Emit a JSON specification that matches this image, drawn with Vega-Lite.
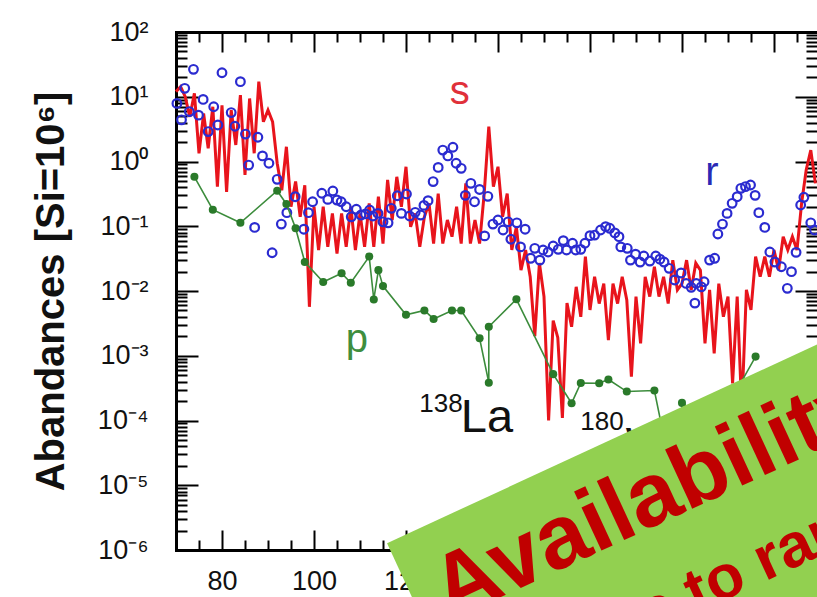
{
  "$schema": "https://vega.github.io/schema/vega-lite/v6.json",
  "width": 641,
  "height": 518,
  "autosize": {"type": "none"},
  "padding": {"left": 176, "top": 32, "right": 0, "bottom": 47},
  "background": "white",
  "config": {
    "view": {"stroke": null},
    "font": "Liberation Sans",
    "axis": {"grid": false, "tickColor": "#000", "tickWidth": 2, "domainColor": "#000", "domainWidth": 3, "domainCap": "square"}
  },
  "datasets": {
    "s": [
      {"A":70,"Y":12},{"A":71,"Y":14.3},{"A":72,"Y":10},{"A":73,"Y":4.9},{"A":74,"Y":11.3},{"A":75,"Y":1.34},{"A":76,"Y":5.5},{"A":77,"Y":1.6},{"A":78,"Y":7.0},{"A":79,"Y":0.41},
      {"A":80,"Y":7.4},{"A":81,"Y":0.34},{"A":82,"Y":6.2},{"A":83,"Y":1.8},{"A":84,"Y":10.6},{"A":85,"Y":0.62},{"A":86,"Y":9.4},{"A":87,"Y":1.34},{"A":88,"Y":17.1},{"A":89,"Y":4.1},
      {"A":90,"Y":6.2},{"A":91,"Y":4.1},{"A":92,"Y":0.94},{"A":93,"Y":0.36},{"A":94,"Y":1.69},{"A":95,"Y":0.2},{"A":96,"Y":0.49},{"A":97,"Y":0.14},{"A":98,"Y":0.43},{"A":99,"Y":0.0057},
      {"A":100,"Y":0.2},{"A":101,"Y":0.043},{"A":102,"Y":0.2},{"A":103,"Y":0.048},{"A":104,"Y":0.158},{"A":105,"Y":0.038},{"A":106,"Y":0.158},{"A":107,"Y":0.048},{"A":108,"Y":0.2},{"A":109,"Y":0.043},
      {"A":110,"Y":0.158},{"A":111,"Y":0.048},{"A":112,"Y":0.225},{"A":113,"Y":0.048},{"A":114,"Y":0.286},{"A":115,"Y":0.054},{"A":116,"Y":0.52},{"A":117,"Y":0.125},{"A":118,"Y":0.58},{"A":119,"Y":0.2},
      {"A":120,"Y":0.83},{"A":121,"Y":0.098},{"A":122,"Y":0.158},{"A":123,"Y":0.048},{"A":124,"Y":0.14},{"A":125,"Y":0.226},{"A":126,"Y":0.054},{"A":127,"Y":0.32},{"A":128,"Y":0.054},{"A":129,"Y":0.125},
      {"A":130,"Y":0.069},{"A":131,"Y":0.2},{"A":132,"Y":0.054},{"A":133,"Y":0.46},{"A":134,"Y":0.054},{"A":135,"Y":0.125},{"A":136,"Y":0.054},{"A":137,"Y":0.32},{"A":138,"Y":3.45},{"A":139,"Y":0.41},
      {"A":140,"Y":0.83},{"A":141,"Y":0.14},{"A":142,"Y":0.32},{"A":143,"Y":0.043},{"A":144,"Y":0.098},{"A":145,"Y":0.021},{"A":146,"Y":0.043},{"A":147,"Y":0.0166},{"A":148,"Y":0.002},{"A":149,"Y":0.027},
      {"A":150,"Y":0.0082},{"A":151,"Y":0.0001},{"A":152,"Y":0.0035},{"A":153,"Y":0.0019},{"A":154,"Y":0.00011},{"A":155,"Y":0.0065},{"A":156,"Y":0.0028},{"A":157,"Y":0.0116},{"A":158,"Y":0.004},{"A":159,"Y":0.034},
      {"A":160,"Y":0.0051},{"A":161,"Y":0.0166},{"A":162,"Y":0.0064},{"A":163,"Y":0.013},{"A":164,"Y":0.00175},{"A":165,"Y":0.013},{"A":166,"Y":0.0064},{"A":167,"Y":0.0166},{"A":168,"Y":0.0073},{"A":169,"Y":0.000475},
      {"A":170,"Y":0.0082},{"A":171,"Y":0.00155},{"A":172,"Y":0.0166},{"A":173,"Y":0.0082},{"A":174,"Y":0.0237},{"A":175,"Y":0.0082},{"A":176,"Y":0.0166},{"A":177,"Y":0.0064},{"A":178,"Y":0.03},{"A":179,"Y":0.0104},
      {"A":180,"Y":0.013},{"A":181,"Y":0.03},{"A":182,"Y":0.0104},{"A":183,"Y":0.027},{"A":184,"Y":0.021},{"A":185,"Y":0.00155},{"A":186,"Y":0.0104},{"A":187,"Y":0.00109},{"A":188,"Y":0.013},{"A":189,"Y":0.004},
      {"A":190,"Y":0.0082},{"A":191,"Y":0.000375},{"A":192,"Y":0.0082},{"A":193,"Y":0.000145},{"A":194,"Y":0.0104},{"A":195,"Y":0.0051},{"A":196,"Y":0.034},{"A":197,"Y":0.0166},{"A":198,"Y":0.034},{"A":199,"Y":0.0166},
      {"A":200,"Y":0.043},{"A":201,"Y":0.021},{"A":202,"Y":0.069},{"A":203,"Y":0.043},{"A":204,"Y":0.069},{"A":205,"Y":0.043},{"A":206,"Y":0.226},{"A":207,"Y":0.74},{"A":208,"Y":1.5},{"A":209,"Y":0.46}
    ],
    "r": [
      {"A":70.2,"Y":7.9},{"A":71.2,"Y":4.4},{"A":71.9,"Y":13.5},{"A":72.9,"Y":5.9},{"A":73.8,"Y":26.5},{"A":74.9,"Y":5.2},{"A":75.9,"Y":9.1},{"A":77.0,"Y":2.9},{"A":78.2,"Y":7.0},{"A":79.1,"Y":3.66},
      {"A":80.0,"Y":23.5},{"A":82.0,"Y":5.7},{"A":82.8,"Y":3.5},{"A":84.0,"Y":17.1},{"A":85.1,"Y":2.65},{"A":85.8,"Y":0.88},{"A":87.1,"Y":0.096},{"A":87.8,"Y":2.37},{"A":88.8,"Y":1.22},{"A":90.2,"Y":0.94},
      {"A":90.9,"Y":0.039},{"A":92.0,"Y":0.53},{"A":92.9,"Y":0.108},{"A":94.1,"Y":0.162},{"A":95.9,"Y":0.286},{"A":97.8,"Y":0.09},{"A":98.8,"Y":0.162},{"A":99.7,"Y":0.239},{"A":101.7,"Y":0.323},{"A":103.0,"Y":0.26},
      {"A":104.1,"Y":0.35},{"A":105.0,"Y":0.254},{"A":105.9,"Y":0.239},{"A":107.0,"Y":0.2},{"A":108.1,"Y":0.14},{"A":109.2,"Y":0.183},{"A":110.2,"Y":0.149},{"A":111.2,"Y":0.155},{"A":112.1,"Y":0.178},{"A":112.8,"Y":0.144},
      {"A":113.9,"Y":0.158},{"A":115.0,"Y":0.117},{"A":116.1,"Y":0.113},{"A":116.8,"Y":0.189},{"A":118.1,"Y":0.296},{"A":119.0,"Y":0.158},{"A":120.1,"Y":0.315},{"A":120.8,"Y":0.144},{"A":122.0,"Y":0.164},{"A":123.2,"Y":0.149},
      {"A":123.9,"Y":0.21},{"A":124.8,"Y":0.248},{"A":125.9,"Y":0.49},{"A":127.0,"Y":0.81},{"A":128.0,"Y":1.5},{"A":129.1,"Y":1.22},{"A":130.2,"Y":1.66},{"A":130.9,"Y":0.94},{"A":132.0,"Y":0.785},{"A":132.9,"Y":0.3},
      {"A":134.1,"Y":0.46},{"A":134.9,"Y":0.239},{"A":136.0,"Y":0.37},{"A":137.1,"Y":0.071},{"A":137.8,"Y":0.29},{"A":138.9,"Y":0.108},{"A":140.0,"Y":0.125},{"A":141.1,"Y":0.0875},{"A":142.2,"Y":0.117},{"A":142.8,"Y":0.063},
      {"A":144.1,"Y":0.113},{"A":144.9,"Y":0.048},{"A":145.9,"Y":0.09},{"A":147.1,"Y":0.032},{"A":148.0,"Y":0.0456},{"A":149.1,"Y":0.03},{"A":149.8,"Y":0.043},{"A":150.9,"Y":0.04},{"A":152.0,"Y":0.0495},{"A":153.1,"Y":0.044},
      {"A":154.2,"Y":0.06},{"A":154.9,"Y":0.043},{"A":156.2,"Y":0.0546},{"A":156.9,"Y":0.043},{"A":158.0,"Y":0.044},{"A":158.9,"Y":0.0546},{"A":160.0,"Y":0.0715},{"A":161.0,"Y":0.073},{"A":162.3,"Y":0.0875},{"A":163.4,"Y":0.0985},
      {"A":164.3,"Y":0.093},{"A":165.4,"Y":0.079},{"A":166.3,"Y":0.069},{"A":166.7,"Y":0.048},{"A":168.1,"Y":0.0456},{"A":168.8,"Y":0.03},{"A":169.9,"Y":0.037},{"A":170.9,"Y":0.028},{"A":171.7,"Y":0.0347},{"A":173.0,"Y":0.029},
      {"A":174.3,"Y":0.0347},{"A":175.2,"Y":0.031},{"A":176.1,"Y":0.028},{"A":177.2,"Y":0.0224},{"A":178.4,"Y":0.0148},{"A":179.8,"Y":0.019},{"A":180.9,"Y":0.0131},{"A":182.0,"Y":0.0114},{"A":182.8,"Y":0.0065},{"A":183.1,"Y":0.0131},
      {"A":184.2,"Y":0.0116},{"A":184.8,"Y":0.0139},{"A":186.0,"Y":0.03},{"A":187.1,"Y":0.032},{"A":187.8,"Y":0.076},{"A":188.8,"Y":0.108},{"A":189.8,"Y":0.158},{"A":190.9,"Y":0.226},{"A":192.0,"Y":0.286},{"A":192.8,"Y":0.385},
      {"A":193.8,"Y":0.41},{"A":194.9,"Y":0.434},{"A":195.9,"Y":0.3},{"A":196.7,"Y":0.162},{"A":198.0,"Y":0.096},{"A":199.1,"Y":0.04},{"A":200.2,"Y":0.028},{"A":201.6,"Y":0.0237},{"A":202.9,"Y":0.011},{"A":203.8,"Y":0.0199},
      {"A":204.8,"Y":0.0395},{"A":205.8,"Y":0.213},{"A":206.5,"Y":0.28},{"A":208.0,"Y":0.113},{"A":208.8,"Y":0.0875}
    ],
    "p": [
      {"idx":1,"nuclide":"74Se","A":74,"Y":0.58},{"idx":2,"nuclide":"78Kr","A":78,"Y":0.18},{"idx":3,"nuclide":"84Sr","A":84,"Y":0.113},
      {"idx":4,"nuclide":"92Mo","A":92,"Y":0.354},{"idx":5,"nuclide":"94Mo","A":94,"Y":0.221},{"idx":6,"nuclide":"96Ru","A":96,"Y":0.093},
      {"idx":7,"nuclide":"98Ru","A":98,"Y":0.028},{"idx":8,"nuclide":"102Pd","A":102,"Y":0.0138},{"idx":9,"nuclide":"106Cd","A":106,"Y":0.0188},
      {"idx":10,"nuclide":"108Cd","A":108,"Y":0.0134},{"idx":11,"nuclide":"112Sn","A":112,"Y":0.034},{"idx":12,"nuclide":"113In","A":113,"Y":0.0074},
      {"idx":13,"nuclide":"114Sn","A":114,"Y":0.021},{"idx":14,"nuclide":"115Sn","A":115,"Y":0.0119},{"idx":15,"nuclide":"120Te","A":120,"Y":0.0043},
      {"idx":16,"nuclide":"124Xe","A":124,"Y":0.005},{"idx":17,"nuclide":"126Xe","A":126,"Y":0.0037},{"idx":18,"nuclide":"130Ba","A":130,"Y":0.005},
      {"idx":19,"nuclide":"132Ba","A":132,"Y":0.005},{"idx":20,"nuclide":"136Ce","A":136,"Y":0.00186},{"idx":21,"nuclide":"138La","A":138,"Y":0.000384},
      {"idx":22,"nuclide":"138Ce","A":138,"Y":0.0028},{"idx":23,"nuclide":"144Sm","A":144,"Y":0.00745},{"idx":24,"nuclide":"152Gd","A":152,"Y":0.00052},
      {"idx":25,"nuclide":"156Dy","A":156,"Y":0.000185},{"idx":26,"nuclide":"158Dy","A":158,"Y":0.00038},{"idx":27,"nuclide":"162Er","A":162,"Y":0.000376},
      {"idx":28,"nuclide":"164Er","A":164,"Y":0.00043},{"idx":29,"nuclide":"168Yb","A":168,"Y":0.00028},{"idx":30,"nuclide":"174Hf","A":174,"Y":0.00029},
      {"idx":31,"nuclide":"180Ta","A":180,"Y":0.0000024},{"idx":32,"nuclide":"180W","A":180,"Y":0.000187},{"idx":33,"nuclide":"184Os","A":184,"Y":0.00012},
      {"idx":34,"nuclide":"190Pt","A":190,"Y":0.00017},{"idx":35,"nuclide":"196Hg","A":196,"Y":0.00097}
    ],
    "seriesLabels": [
      {"A":131.7,"Y":7.73,"label":"s","series":"s"},
      {"A":186.5,"Y":0.434,"label":"r","series":"r"},
      {"A":109.3,"Y":0.00114,"label":"p","series":"p"}
    ],
    "massNumbers": [
      {"A":127.6,"Y":0.000135,"label":"138"},
      {"A":162.6,"Y":0.0000713,"label":"180"}
    ],
    "elements": [
      {"A":137.6,"Y":0.0000664,"label":"La"},
      {"A":172.6,"Y":0.0000245,"label":"W"}
    ],
    "banner": [
      {"A":208.5,"Y":0.00000392}
    ],
    "bannerText": [
      {"A":175.9,"Y":0.0000027,"label":"Availability"}
    ],
    "bannerSubText": [
      {"A":195.0,"Y":0.000000259,"label":"s to ran"}
    ]
  },
  "layer": [
    {
      "encoding": {
        "x": {
          "field": "A", "type": "quantitative",
          "scale": {"domain": [70, 209.35], "nice": false, "zero": false},
          "axis": {
            "orient": "bottom", "title": null,
            "values": [70,75,80,85,90,95,100,105,110,115,120,125,130,135,140,145,150,155,160,165,170,175,180,185,190,195,200,205],
            "labelExpr": "datum.value % 20 === 0 ? datum.label : ''",
            "tickSize": {"condition": {"test": "datum.value % 20 === 0", "value": -20}, "value": -10},
            "labelPadding": 38, "labelFontSize": 27, "labelColor": "#111",
            "labelFont": "Liberation Sans Narrow, Arial Narrow, Liberation Sans, sans-serif",
            "labelOverlap": false, "labelFlush": false, "labelBound": false
          }
        },
        "y": {
          "field": "Y", "type": "quantitative",
          "scale": {"type": "log", "domain": [0.000001, 100], "nice": false},
          "axis": {
            "orient": "left",
            "title": "Abandances [Si=10⁶]",
            "titleFontSize": 40, "titleFontWeight": "bold", "titleColor": "#111", "titlePadding": 26,
            "titleFont": "Liberation Sans Narrow, Arial Narrow, Liberation Sans, sans-serif",
            "values": [0.000001,0.000002,0.000003,0.000004,0.000005,0.000006,0.000007,0.000008,0.000009,
                       0.00001,0.00002,0.00003,0.00004,0.00005,0.00006,0.00007,0.00008,0.00009,
                       0.0001,0.0002,0.0003,0.0004,0.0005,0.0006,0.0007,0.0008,0.0009,
                       0.001,0.002,0.003,0.004,0.005,0.006,0.007,0.008,0.009,
                       0.01,0.02,0.03,0.04,0.05,0.06,0.07,0.08,0.09,
                       0.1,0.2,0.3,0.4,0.5,0.6,0.7,0.8,0.9,
                       1,2,3,4,5,6,7,8,9,
                       10,20,30,40,50,60,70,80,90,100],
            "labelExpr": "abs(log(datum.value)/LN10 - round(log(datum.value)/LN10)) < 0.001 ? '10' + ['⁻⁶','⁻⁵','⁻⁴','⁻³','⁻²','⁻¹','⁰','¹','²'][round(log(datum.value)/LN10) + 6] : ''",
            "tickSize": {"condition": {"test": "abs(log(datum.value)/LN10 - round(log(datum.value)/LN10)) < 0.001", "value": -22}, "value": -11},
            "labelPadding": 50, "labelFontSize": 27, "labelColor": "#111",
            "labelFont": "Liberation Sans Narrow, Arial Narrow, Liberation Sans, sans-serif",
            "labelOverlap": false, "labelFlush": false, "labelBound": false
          }
        }
      },
      "layer": [
        {
          "data": {"name": "s"},
          "mark": {"type": "line", "color": "#E8141C", "strokeWidth": 3, "strokeJoin": "miter"}
        },
        {
          "data": {"name": "r"},
          "mark": {"type": "point", "shape": "circle", "filled": false, "color": "#2B2BD0", "strokeWidth": 2.2, "size": 75, "opacity": 1}
        },
        {
          "data": {"name": "p"},
          "mark": {"type": "line", "color": "#3C8C3C", "strokeWidth": 1.6},
          "encoding": {"order": {"field": "idx", "type": "quantitative"}}
        },
        {
          "data": {"name": "p"},
          "mark": {"type": "point", "shape": "circle", "filled": true, "color": "#2A7A2A", "size": 65, "opacity": 1}
        },
        {
          "data": {"name": "seriesLabels"},
          "mark": {"type": "text", "fontSize": 40, "align": "center", "baseline": "alphabetic", "font": "Liberation Sans Narrow, Arial Narrow, Liberation Sans, sans-serif"},
          "encoding": {
            "text": {"field": "label"},
            "color": {"field": "series", "type": "nominal", "scale": {"domain": ["s", "r", "p"], "range": ["#E0303A", "#2A2AB5", "#3E8E3E"]}, "legend": null}
          }
        },
        {
          "data": {"name": "massNumbers"},
          "mark": {"type": "text", "fontSize": 26, "align": "center", "baseline": "alphabetic", "color": "#111", "font": "Liberation Sans Narrow, Arial Narrow, Liberation Sans, sans-serif"},
          "encoding": {"text": {"field": "label"}}
        },
        {
          "data": {"name": "elements"},
          "mark": {"type": "text", "fontSize": 47, "align": "center", "baseline": "alphabetic", "color": "#111", "font": "Liberation Sans Narrow, Arial Narrow, Liberation Sans, sans-serif"},
          "encoding": {"text": {"field": "label"}}
        }
      ]
    },
    {
      "data": {"name": "s"},
      "mark": {"type": "point", "opacity": 0},
      "encoding": {
        "x": {
          "field": "A", "type": "quantitative",
          "scale": {"domain": [70, 209.35], "nice": false, "zero": false},
          "axis": {
            "orient": "top", "title": null, "labels": false, "domain": true,
            "values": [70,75,80,85,90,95,100,105,110,115,120,125,130,135,140,145,150,155,160,165,170,175,180,185,190,195,200,205],
            "tickSize": {"condition": {"test": "datum.value % 20 === 0", "value": -20}, "value": -10}
          }
        },
        "y": {
          "field": "Y", "type": "quantitative",
          "scale": {"type": "log", "domain": [0.000001, 100], "nice": false},
          "axis": {
            "orient": "right", "title": null, "labels": false, "domain": false,
            "values": [0.000001,0.000002,0.000003,0.000004,0.000005,0.000006,0.000007,0.000008,0.000009,
                       0.00001,0.00002,0.00003,0.00004,0.00005,0.00006,0.00007,0.00008,0.00009,
                       0.0001,0.0002,0.0003,0.0004,0.0005,0.0006,0.0007,0.0008,0.0009,
                       0.001,0.002,0.003,0.004,0.005,0.006,0.007,0.008,0.009,
                       0.01,0.02,0.03,0.04,0.05,0.06,0.07,0.08,0.09,
                       0.1,0.2,0.3,0.4,0.5,0.6,0.7,0.8,0.9,
                       1,2,3,4,5,6,7,8,9,
                       10,20,30,40,50,60,70,80,90,100],
            "tickSize": {"condition": {"test": "abs(log(datum.value)/LN10 - round(log(datum.value)/LN10)) < 0.001", "value": -22}, "value": -11}
          }
        }
      }
    },
    {
      "data": {"name": "banner"},
      "mark": {"type": "point", "shape": "M-1,-0.375L1,-0.375L1,0.375L-1,0.375Z", "size": 640000, "angle": -24.8, "filled": true, "fill": "#92D050", "strokeWidth": 0, "opacity": 1},
      "encoding": {
        "x": {"field": "A", "type": "quantitative", "axis": null},
        "y": {"field": "Y", "type": "quantitative", "axis": null}
      }
    },
    {
      "data": {"name": "bannerText"},
      "mark": {"type": "text", "fontSize": 90, "fontWeight": "bold", "angle": -24.8, "align": "center", "baseline": "alphabetic", "color": "#C00000", "font": "Liberation Sans"},
      "encoding": {
        "x": {"field": "A", "type": "quantitative", "axis": null},
        "y": {"field": "Y", "type": "quantitative", "axis": null},
        "text": {"field": "label"}
      }
    },
    {
      "data": {"name": "bannerSubText"},
      "mark": {"type": "text", "fontSize": 62, "fontWeight": "bold", "angle": -24.8, "align": "center", "baseline": "alphabetic", "color": "#C00000", "font": "Liberation Sans"},
      "encoding": {
        "x": {"field": "A", "type": "quantitative", "axis": null},
        "y": {"field": "Y", "type": "quantitative", "axis": null},
        "text": {"field": "label"}
      }
    }
  ],
  "resolve": {"axis": {"x": "independent", "y": "independent"}}
}
